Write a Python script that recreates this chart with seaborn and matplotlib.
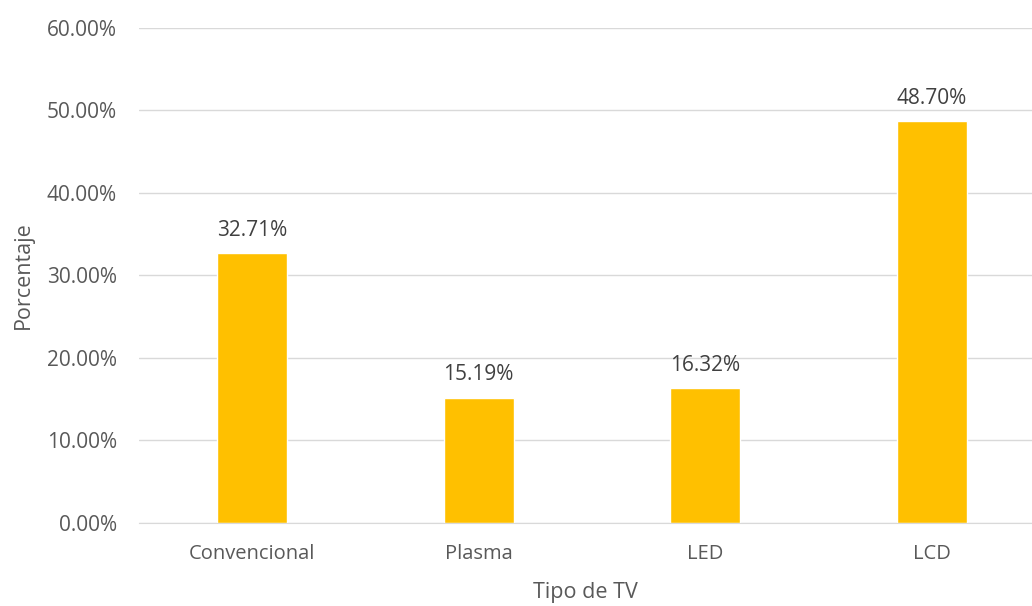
import pandas as pd
import matplotlib.pyplot as plt
import seaborn as sns
from matplotlib.ticker import PercentFormatter

# data
tipos = ["Convencional", "Plasma", "LED", "LCD"]
porcentajes = [32.71, 15.19, 16.32, 48.70]

df = pd.DataFrame({"Tipo de TV": tipos, "Porcentaje": porcentajes})

sns.set_style("white")
plt.rcParams['font.family'] = ['Open Sans', 'DejaVu Sans']

gris = "#595959"
fig = plt.figure(figsize=(10.32, 6.06), dpi=100)
ax = fig.add_axes([0.1347, 0.137, 0.8653, 0.8168])

sns.barplot(data=df, x="Tipo de TV", y="Porcentaje", color="#FFC000",
            width=0.31, saturation=1, ax=ax)

# value labels on top of bars
for container in ax.containers:
    ax.bar_label(container, labels=[f"{v:.2f}%" for v in porcentajes],
                 padding=9, fontsize=15, color="#404040")

ax.set_ylim(0, 60)
ax.set_yticks(range(0, 61, 10))
ax.yaxis.set_major_formatter(PercentFormatter(decimals=2))
ax.set_xlim(-0.5, 3.443)

ax.grid(axis='y', color="#D9D9D9", linewidth=1)
ax.set_axisbelow(True)
for s in ["top", "right", "left"]:
    ax.spines[s].set_visible(False)
ax.spines["bottom"].set_color("#D9D9D9")

ax.tick_params(axis='y', length=0, labelsize=15, labelcolor=gris, pad=16)
ax.tick_params(axis='x', length=0, labelsize=14.5, labelcolor=gris, pad=15)
ax.set_xlabel("Tipo de TV", fontsize=15.5, color=gris, labelpad=13)
ax.set_ylabel("Porcentaje", fontsize=15.5, color=gris, labelpad=9)

plt.savefig("out.png", dpi=100)
